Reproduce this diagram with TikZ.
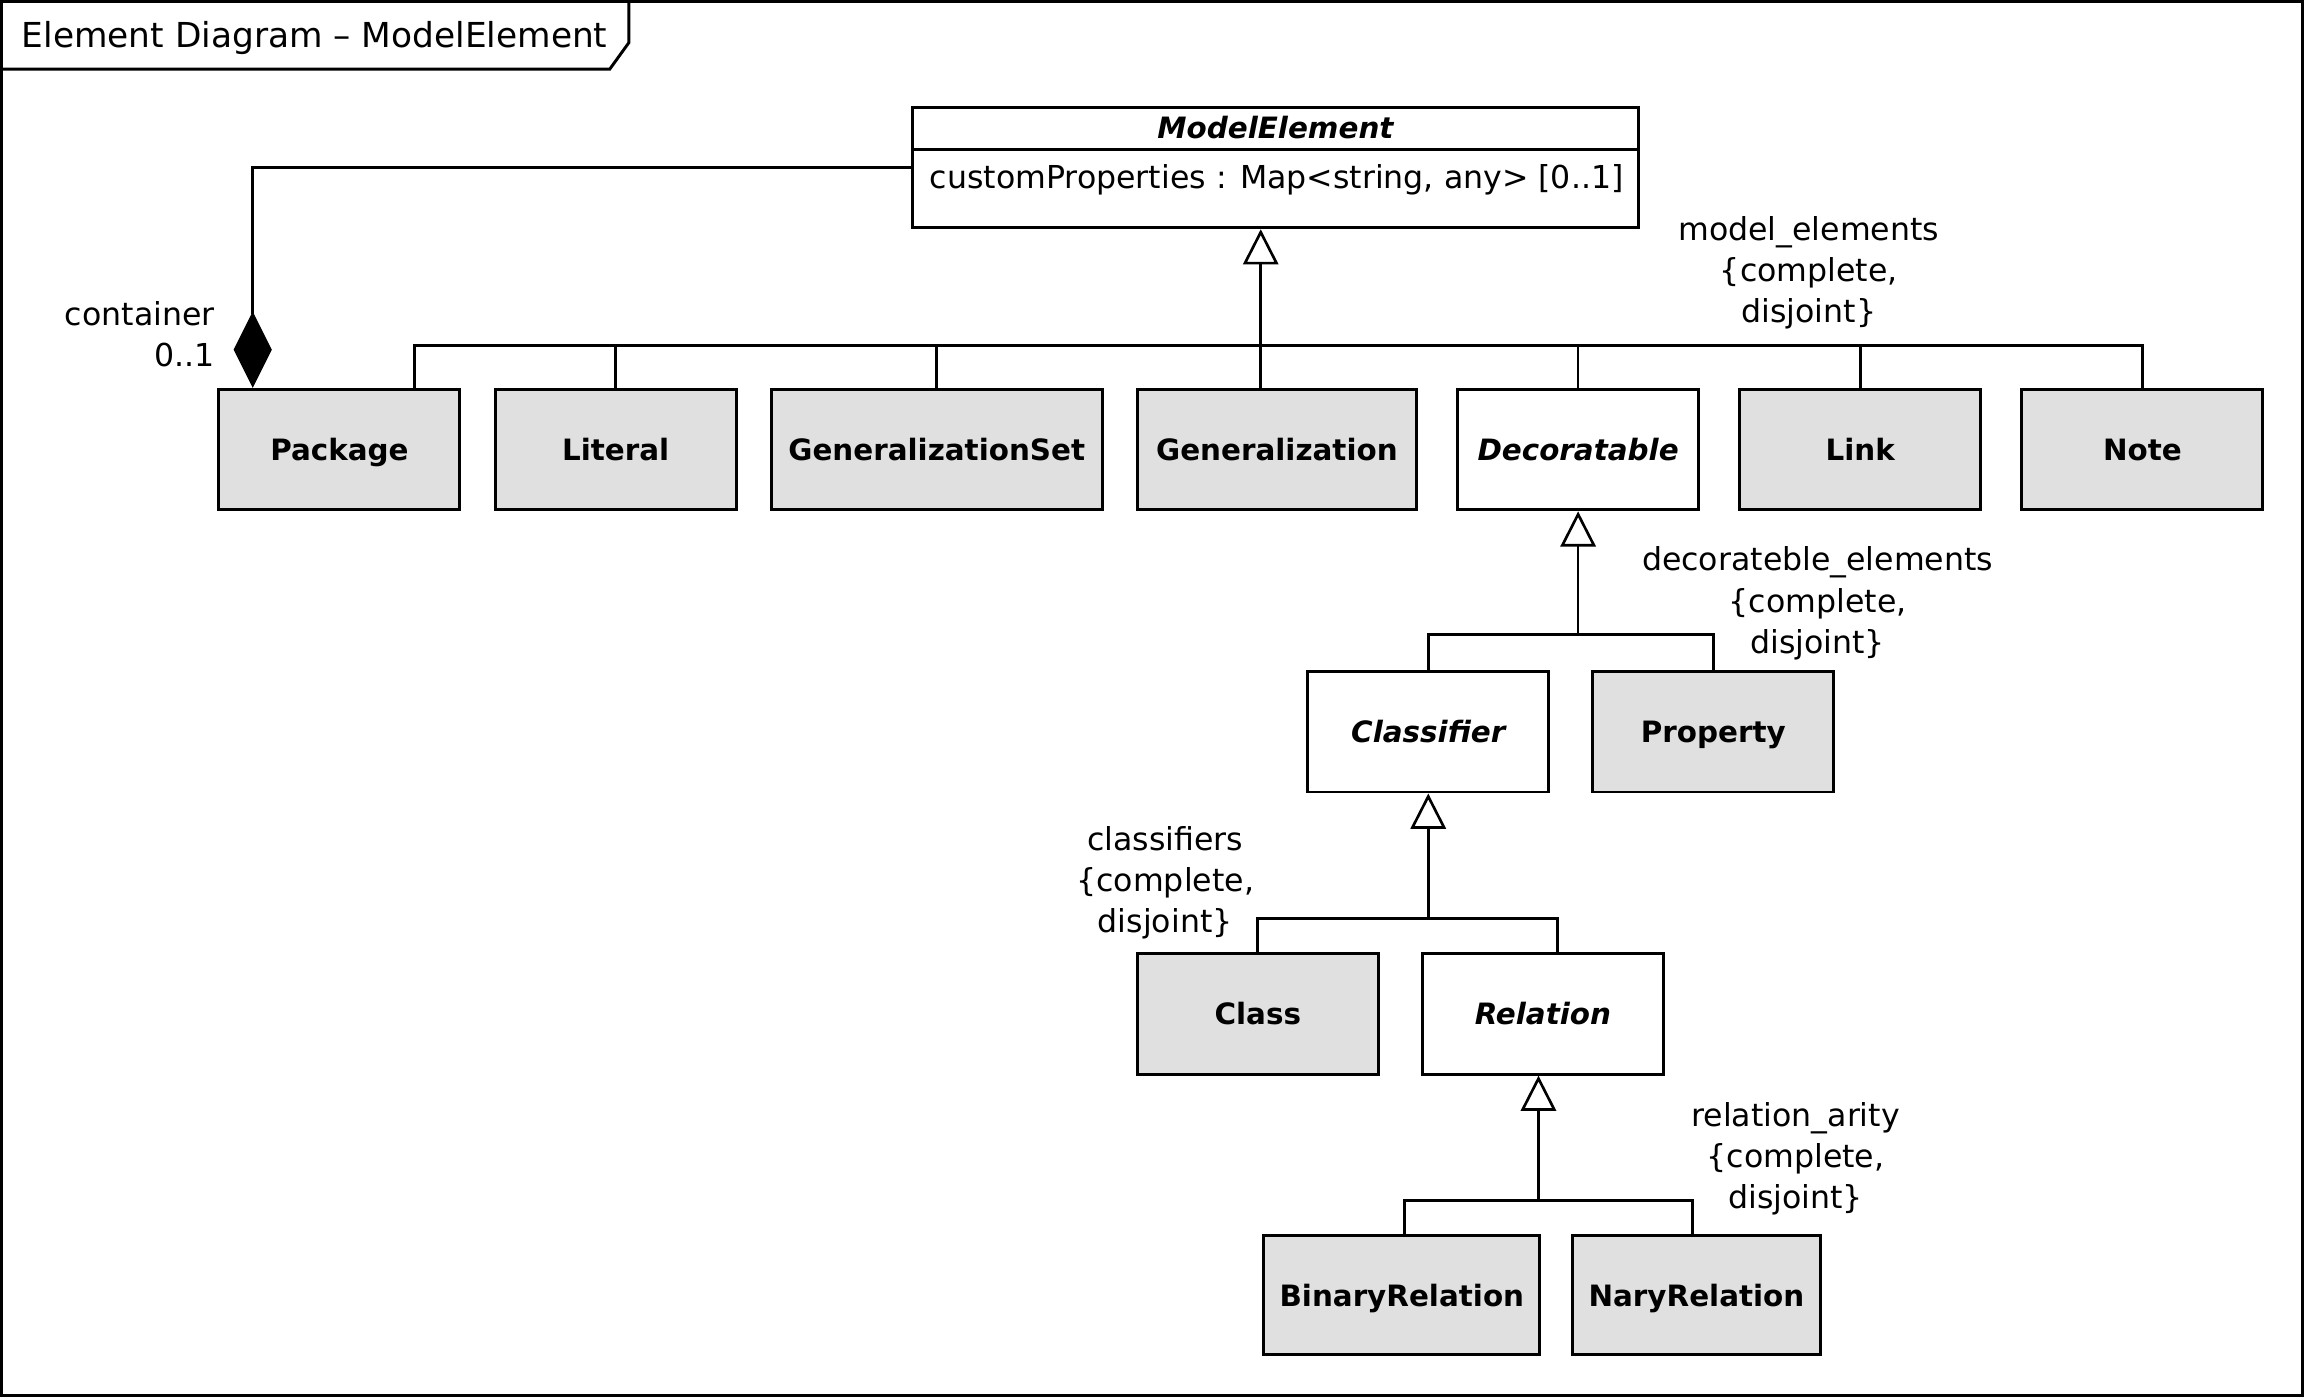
\documentclass[tikz,border=0pt]{standalone}
\usepackage{fontspec}
\setmainfont{DejaVu Sans}
\usetikzlibrary{arrows.meta}
\definecolor{boxgray}{RGB}{224,224,224}
\newcommand{\lblfont}{\fontsize{21.5}{28}\selectfont}
\newcommand{\titlefont}{\fontsize{23.4}{28}\selectfont}
\newcommand{\boxfont}{\fontsize{20}{26}\selectfont\bfseries}
\begin{document}
\begin{tikzpicture}[x=1pt,y=-1pt,line width=1.8pt,
  box/.style={draw,line width=2pt,fill=boxgray,minimum height=82pt,inner sep=0pt,font=\boxfont,text height=15pt,text depth=0pt},
  abox/.style={box,fill=white,font=\boxfont\itshape},
  lab/.style={font=\lblfont,align=center,inner sep=0pt,text height=16pt,text depth=5pt},
  inh/.style={-{Triangle[open,length=24pt,width=24pt,line width=1.8pt]}},
  comp/.style={-{Diamond[length=52pt,width=26pt]}}]
\useasboundingbox (0,0) rectangle (1568,951);
% frame
\draw[line width=2pt] (1,1) rectangle (1567,950);
\draw[line width=2pt] (1,47) -- (415,47) -- (428,29) -- (428,1);
\node[lab,font=\titlefont,anchor=west] (title) at (14,26.5) {Element Diagram – ModelElement};
% ModelElement
\node[draw,line width=2pt,fill=white,minimum width=494pt,minimum height=82pt,inner sep=0pt] (me) at (868,114) {};
\node[font=\boxfont\itshape,inner sep=0pt,text height=15pt,text depth=0pt] (mename) at (868,87) {ModelElement};
\draw[line width=2pt] (me.west |- 0,102) -- (me.east |- 0,102);
\node[lab,anchor=west] (meattr) at (632,123) {customProperties : Map<string, any> [0..1]};
% first level
\node[box,minimum width=164pt] (pkg) at (231,306) {Package};
\node[box,minimum width=164pt] (lit) at (419,306) {Literal};
\node[box,minimum width=225pt] (gset) at (637.5,306) {GeneralizationSet};
\node[box,minimum width=190pt] (gen) at (869,306) {Generalization};
\node[abox,minimum width=164pt] (dec) at (1074,306) {Decoratable};
\node[box,minimum width=164pt] (link) at (1266,306) {Link};
\node[box,minimum width=164pt] (note) at (1458,306) {Note};
% second level
\node[abox,minimum width=164pt] (clsf) at (972,498) {Classifier};
\node[box,minimum width=164pt] (prop) at (1166,498) {Property};
% third level
\node[box,minimum width=164pt] (class) at (856,690) {Class};
\node[abox,minimum width=164pt] (rel) at (1050,690) {Relation};
% fourth level
\node[box,minimum width=188pt,minimum height=81pt] (bin) at (954,881.5) {BinaryRelation};
\node[box,minimum width=169pt,minimum height=81pt] (nary) at (1154.5,881.5) {NaryRelation};
% bus coordinates
\coordinate (bus1) at (0,235);
\coordinate (bus2) at (0,432);
\coordinate (bus3) at (0,625);
\coordinate (bus4) at (0,817);
% level 1 generalization set
\draw[inh] ([xshift=-11pt]gen.north) -- ([xshift=-11pt]gen.north |- me.south);
\draw ([xshift=51pt]pkg.north) |- (note.north |- bus1) -- (note.north);
\foreach \n in {lit,gset,dec,link} {\draw (\n.north) -- (\n.north |- bus1);}
% composition
\draw[comp] (me.west) -| ([xshift=-59pt]pkg.north);
\node[lab,anchor=east,align=right] (contl) at (147,244) {container\\0..1};
\node[lab] (gsl1) at (1231,214) {model\_elements\\\{complete,\\disjoint\}};
% level 2
\draw[inh] (bus2 -| dec.south) -- (dec.south);
\draw (clsf.north) |- (prop.north |- bus2) -- (prop.north);
\node[lab] (gsl2) at (1237,439) {decorateble\_elements\\\{complete,\\disjoint\}};
% level 3
\draw[inh] (bus3 -| clsf.south) -- (clsf.south);
\draw (class.north) |- ([xshift=10pt]rel.north |- bus3) -- ([xshift=10pt]rel.north);
\node[lab] (gsl3) at (793,629) {classifiers\\\{complete,\\disjoint\}};
% level 4
\draw[inh] ([xshift=-3pt]bus4 -| rel.south) -- ([xshift=-3pt]rel.south);
\draw ([xshift=2pt]bin.north) |- ([xshift=-2.5pt]nary.north |- bus4) -- ([xshift=-2.5pt]nary.north);
\node[lab] (gsl4) at (1222,817) {relation\_arity\\\{complete,\\disjoint\}};
\end{tikzpicture}
\end{document}
